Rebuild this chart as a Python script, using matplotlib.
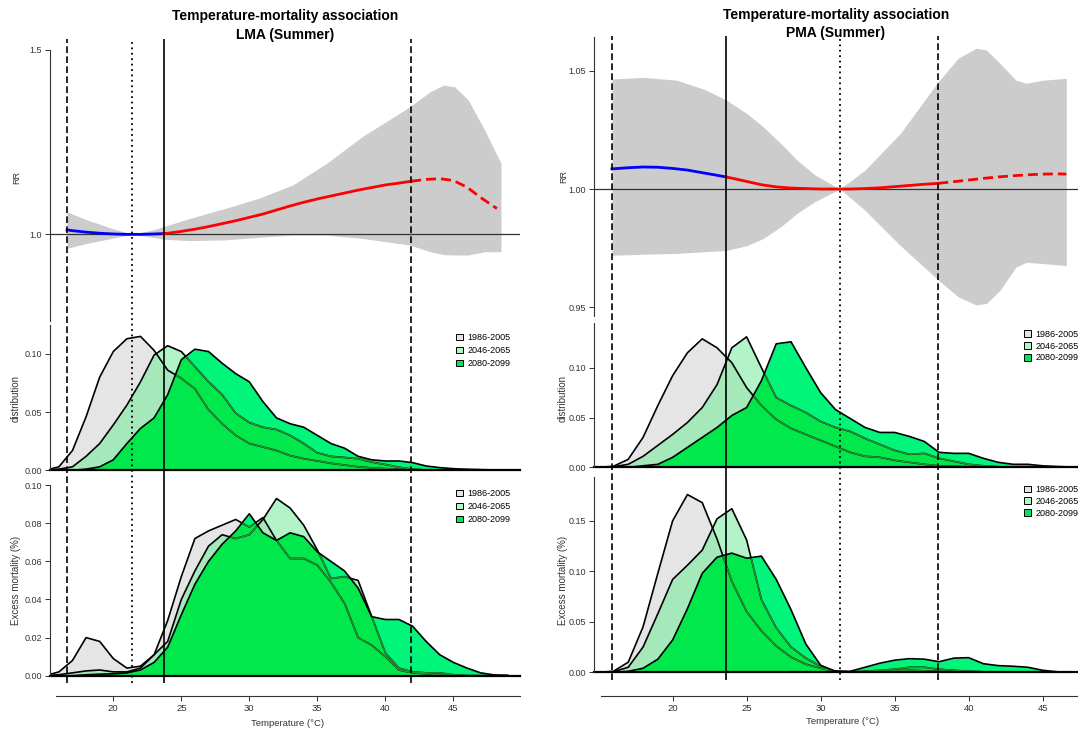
import matplotlib.pyplot as plt
import numpy as np
from matplotlib.patches import Patch

plt.rcParams['font.family'] = ['Liberation Sans', 'DejaVu Sans']
plt.rcParams['font.size'] = 7

W, H = 1078, 732

periods = ['1986-2005', '2046-2065', '2080-2099']

# ---------------- LMA (left column) ----------------
lma_rr_temp = [16.6, 17, 18, 19, 20, 21, 22, 23, 23.7, 24, 25, 26, 27, 28, 29, 30, 31, 32,
               33, 34, 35, 36, 37, 38, 39, 40, 41, 41.9, 43, 44, 45, 46, 47, 48, 48.2]
lma_rr = [1.012, 1.010, 1.006, 1.003, 1.001, 1.000, 1.000, 1.001, 1.002, 1.003, 1.008, 1.014,
          1.021, 1.029, 1.037, 1.046, 1.055, 1.066, 1.077, 1.087, 1.096, 1.104, 1.112, 1.120,
          1.127, 1.134, 1.139, 1.144, 1.149, 1.151, 1.146, 1.128, 1.100, 1.075, 1.070]
lma_ci_temp = [16.6, 18, 20, 21.4, 22.9, 23.7, 25.6, 28.2, 30.7, 33.2, 35.7, 38.3, 41.8,
               43.3, 44.3, 45.1, 46.1, 47.3, 48.5]
lma_ci_hi = [1.061, 1.040, 1.015, 1.000, 1.012, 1.021, 1.043, 1.070, 1.098, 1.134, 1.193,
             1.265, 1.346, 1.387, 1.405, 1.400, 1.364, 1.283, 1.193]
lma_ci_lo = [0.962, 0.975, 0.990, 1.000, 0.992, 0.987, 0.983, 0.985, 0.992, 0.998, 0.998,
             0.989, 0.971, 0.953, 0.945, 0.944, 0.944, 0.953, 0.953]

lma_temp = np.arange(15, 50)
lma_dist_1986 = [0, 0.003, 0.017, 0.046, 0.080, 0.102, 0.113, 0.115, 0.103, 0.086, 0.079, 0.070,
                 0.052, 0.040, 0.030, 0.023, 0.020, 0.017, 0.0126, 0.010, 0.008, 0.006, 0.0045,
                 0.003, 0.002, 0.0014, 0.001, 0.0005, 0.0003, 0, 0, 0, 0, 0, 0]
lma_dist_2046 = [0, 0.001, 0.003, 0.012, 0.023, 0.039, 0.056, 0.076, 0.099, 0.107, 0.102, 0.089,
                 0.076, 0.065, 0.049, 0.041, 0.037, 0.035, 0.030, 0.023, 0.015, 0.012, 0.011,
                 0.010, 0.007, 0.005, 0.0026, 0.001, 0.0003, 0, 0, 0, 0, 0, 0]
lma_dist_2080 = [0, 0, 0, 0.001, 0.003, 0.009, 0.023, 0.036, 0.045, 0.065, 0.095, 0.104, 0.102,
                 0.092, 0.083, 0.076, 0.059, 0.045, 0.040, 0.037, 0.030, 0.023, 0.019, 0.012,
                 0.009, 0.008, 0.008, 0.0066, 0.0037, 0.0023, 0.0014, 0.0009, 0.0006, 0.0003, 0.0002]
lma_exc_1986 = [0, 0.002, 0.008, 0.020, 0.018, 0.009, 0.004, 0.005, 0.011, 0.029, 0.052, 0.072,
                0.076, 0.079, 0.082, 0.078, 0.083, 0.071, 0.0615, 0.0615, 0.058, 0.049, 0.038,
                0.020, 0.016, 0.010, 0.003, 0.0015, 0.001, 0.0005, 0, 0, 0, 0, 0]
lma_exc_2046 = [0, 0.0005, 0.0015, 0.0025, 0.003, 0.002, 0.002, 0.004, 0.011, 0.018, 0.040, 0.055,
                0.068, 0.074, 0.072, 0.074, 0.082, 0.093, 0.088, 0.079, 0.066, 0.051, 0.052,
                0.050, 0.031, 0.012, 0.004, 0.002, 0.0015, 0.0015, 0.0005, 0, 0, 0, 0]
lma_exc_2080 = [0, 0, 0, 0.0005, 0.0008, 0.001, 0.0015, 0.003, 0.007, 0.015, 0.032, 0.048, 0.060,
                0.069, 0.076, 0.085, 0.075, 0.071, 0.075, 0.073, 0.065, 0.060, 0.055, 0.046,
                0.031, 0.0295, 0.0295, 0.026, 0.018, 0.011, 0.007, 0.004, 0.0015, 0.0004, 0.0002]
lma_cuts = {'low': 16.57, 'mmt': 21.37, 'split': 23.7, 'high': 41.9}

# ---------------- PMA (right column) ----------------
pma_rr_temp = [15.9, 17, 18, 19, 20, 21, 22, 23, 23.6, 24, 25, 26, 27, 28, 29, 30, 31.3, 32, 33,
               34, 35, 36, 37, 37.95, 39, 40, 41, 42, 43, 44, 45, 46, 46.6]
pma_rr = [1.0085, 1.0090, 1.0093, 1.0092, 1.0087, 1.0080, 1.0069, 1.0058, 1.0051, 1.0046,
          1.0032, 1.0018, 1.0009, 1.0004, 1.0002, 1.0000, 1.0000, 1.0000, 1.0002, 1.0005,
          1.0010, 1.0015, 1.0020, 1.0024, 1.0031, 1.0038, 1.0045, 1.0051, 1.0056, 1.0060,
          1.0063, 1.0064, 1.0063]
pma_ci_temp = [15.9, 18, 20.3, 22.2, 23.6, 25, 26.1, 27.3, 28.4, 29.6, 31.3, 33, 35.4, 37.95,
               39.3, 40.5, 41.2, 42.1, 43.2, 43.9, 45, 46.6]
pma_ci_hi = [1.0465, 1.0472, 1.046, 1.042, 1.0377, 1.032, 1.0264, 1.0193, 1.0123, 1.006, 1.0,
             1.008, 1.0236, 1.0454, 1.0553, 1.0595, 1.0588, 1.0532, 1.046, 1.0447, 1.046, 1.0468]
pma_ci_lo = [0.972, 0.9724, 0.9728, 0.9735, 0.974, 0.976, 0.979, 0.984, 0.9897, 0.9946, 1.0,
             0.991, 0.976, 0.9615, 0.9544, 0.951, 0.9516, 0.957, 0.967, 0.969, 0.9685, 0.9676]

pma_temp = np.arange(15, 48)
pma_dist_1986 = [0, 0.001, 0.008, 0.030, 0.062, 0.092, 0.115, 0.129, 0.120, 0.105, 0.080, 0.062,
                 0.048, 0.039, 0.033, 0.027, 0.021, 0.015, 0.011, 0.010, 0.007, 0.005, 0.003,
                 0.0015, 0.001, 0.0005, 0.0003, 0, 0, 0, 0, 0, 0]
pma_dist_2046 = [0, 0.0005, 0.003, 0.011, 0.022, 0.033, 0.045, 0.060, 0.083, 0.120, 0.131, 0.100,
                 0.070, 0.062, 0.055, 0.046, 0.040, 0.036, 0.029, 0.023, 0.017, 0.013, 0.014,
                 0.009, 0.006, 0.003, 0.0015, 0.0005, 0, 0, 0, 0, 0]
pma_dist_2080 = [0, 0, 0, 0.0015, 0.003, 0.010, 0.020, 0.030, 0.040, 0.052, 0.060, 0.087, 0.124,
                 0.126, 0.100, 0.075, 0.058, 0.049, 0.040, 0.035, 0.035, 0.031, 0.026, 0.015,
                 0.014, 0.014, 0.009, 0.005, 0.003, 0.003, 0.0015, 0.0008, 0.0003]
pma_exc_1986 = [0, 0.001, 0.010, 0.045, 0.098, 0.150, 0.176, 0.168, 0.132, 0.090, 0.060, 0.041,
                0.026, 0.015, 0.008, 0.004, 0.001, 0.0003, 0.0005, 0.001, 0.0015, 0.002, 0.0015,
                0.001, 0.0005, 0.0003, 0, 0, 0, 0, 0, 0, 0]
pma_exc_2046 = [0, 0.0005, 0.005, 0.025, 0.058, 0.092, 0.106, 0.121, 0.152, 0.162, 0.131, 0.072,
                0.044, 0.025, 0.014, 0.006, 0.001, 0.0005, 0.001, 0.002, 0.003, 0.005, 0.005,
                0.003, 0.002, 0.001, 0.0005, 0, 0, 0, 0, 0, 0]
pma_exc_2080 = [0, 0, 0.001, 0.004, 0.013, 0.032, 0.063, 0.098, 0.114, 0.118, 0.113, 0.115, 0.092,
                0.062, 0.028, 0.007, 0.001, 0.001, 0.005, 0.009, 0.012, 0.0135, 0.013, 0.0105,
                0.014, 0.0145, 0.0085, 0.0066, 0.006, 0.005, 0.002, 0.0005, 0]
pma_cuts = {'low': 15.9, 'mmt': 31.3, 'split': 23.6, 'high': 37.95}

# colours
c_1986 = '#E5E5E5'
c_2046 = '#67EB91'      # drawn with alpha 0.5
c_2080 = '#00F57A'
c_2080_over = '#00E84C'
c_inner = '#2A9632'
txt = '#333333'


def box(x0, x1, top, bottom):
    return [x0 / W, 1 - bottom / H, (x1 - x0) / W, (bottom - top) / H]


def style_left(ax, ticks, fmt, bounds=None):
    for s in ['top', 'right', 'bottom']:
        ax.spines[s].set_visible(False)
    ax.spines['left'].set_color(txt)
    ax.spines['left'].set_linewidth(0.8)
    if bounds is not None:
        ax.spines['left'].set_bounds(*bounds)
    ax.set_yticks(ticks)
    ax.set_yticklabels([fmt % t for t in ticks])
    ax.tick_params(axis='y', direction='out', length=3.5, width=0.7, color=txt,
                   labelsize=6.5, labelcolor=txt, pad=2)
    ax.set_xticks([])


def density(ax, temp, d1, d2, d3):
    ax.fill_between(temp, 0, d1, color=c_1986, lw=0)
    ax.plot(temp, d1, color='black', lw=1.2)
    ax.fill_between(temp, 0, d2, color=c_2046, alpha=0.5, lw=0)
    ax.plot(temp, d2, color='black', lw=1.2)
    top = ax.fill_between(temp, 0, d3, color=c_2080, lw=0)
    clip = top.get_paths()[0]
    # parts of the earlier periods lying under the 2080-2099 area
    for d in (d1, d2):
        f = ax.fill_between(temp, 0, d, color=c_2080_over, lw=0)
        f.set_clip_path(clip, ax.transData)
        ln, = ax.plot(temp, d, color=c_inner, lw=1.0)
        ln.set_clip_path(clip, ax.transData)
    ax.plot(temp, d3, color='black', lw=1.2)
    ax.axhline(0, color='black', lw=1.6, clip_on=False)


def legend(ax, x, y, spacing):
    handles = [Patch(facecolor=c_1986, edgecolor='black', lw=0.7),
               Patch(facecolor='#B3F5C8', edgecolor='black', lw=0.7),
               Patch(facecolor='#00E85A', edgecolor='black', lw=0.7)]
    ax.legend(handles, periods, loc='upper left', bbox_to_anchor=(x, y), frameon=False,
              fontsize=6.5, handlelength=0.75, handleheight=0.75, handletextpad=0.5,
              labelspacing=spacing, borderpad=0, borderaxespad=0)


def column(cfg):
    x0, x1, xlim = cfg['x0'], cfg['x1'], cfg['xlim']
    cuts = cfg['cuts']

    # RR panel
    ax = fig.add_axes(box(x0, x1, *cfg['rr_box']))
    ax.set_xlim(xlim)
    ax.set_ylim(cfg['rr_ylim'])
    ax.fill_between(cfg['ci_temp'], cfg['ci_lo'], cfg['ci_hi'], color='#CCCCCC', lw=0)
    ax.axhline(1, color=txt, lw=0.9)
    t = np.array(cfg['rr_temp'])
    rr = np.array(cfg['rr'])
    cold = t <= cuts['split']
    warm = (t >= cuts['split']) & (t <= cuts['high'])
    ext = t >= cuts['high']
    ax.plot(t[cold], rr[cold], color='blue', lw=2)
    ax.plot(t[warm], rr[warm], color='red', lw=2)
    ax.plot(t[ext], rr[ext], color='red', lw=2, dashes=(3.6, 1.8))
    style_left(ax, cfg['rr_ticks'], cfg['rr_fmt'], cfg.get('rr_bounds'))
    ax.set_ylabel('RR', fontsize=6.5, color=txt)
    ax.yaxis.set_label_coords(cfg['ylab_x'], cfg['ylab_y'][0])

    # distribution panel
    ax = fig.add_axes(box(x0, x1, *cfg['dist_box']))
    ax.set_xlim(xlim)
    ax.set_ylim(0, cfg['dist_top'])
    density(ax, cfg['temp'], *cfg['dist'])
    style_left(ax, [0, 0.05, 0.10], '%.2f')
    ax.set_ylabel('distribution', fontsize=7, color=txt)
    ax.yaxis.set_label_coords(cfg['ylab_x'], cfg['ylab_y'][1])
    legend(ax, cfg['leg_x'], cfg['leg_y'][0], cfg['leg_sp'])

    # excess mortality panel
    ax = fig.add_axes(box(x0, x1, *cfg['exc_box']))
    ax.set_xlim(xlim)
    ax.set_ylim(0, cfg['exc_top'])
    density(ax, cfg['temp'], *cfg['exc'])
    style_left(ax, cfg['exc_ticks'], '%.2f')
    ax.set_ylabel('Excess mortality (%)', fontsize=7, color=txt)
    ax.yaxis.set_label_coords(cfg['ylab_x'], cfg['ylab_y'][2])
    legend(ax, cfg['leg_x'], cfg['leg_y'][1], cfg['leg_sp'])
    ax.spines['bottom'].set_visible(True)
    ax.spines['bottom'].set_color(txt)
    ax.spines['bottom'].set_linewidth(0.8)
    ax.spines['bottom'].set_position(('outward', cfg['x_out']))
    ax.spines['bottom'].set_bounds(cfg['x_bounds'])
    ax.set_xticks([20, 25, 30, 35, 40, 45])
    ax.tick_params(axis='x', direction='out', length=3.5, width=0.7, color=txt,
                   labelsize=6.8, labelcolor=txt, pad=2.5)
    ax.set_xlabel('Temperature (°C)', fontsize=6.8, color=txt)
    ax.xaxis.set_label_coords(cfg['xlab'][0], cfg['xlab'][1])

    # reference temperatures across all panels
    ov = fig.add_axes(box(x0, x1, *cfg['vline_box']))
    ov.set_xlim(xlim)
    ov.set_ylim(0, 1)
    ov.axis('off')
    ov.axvline(cuts['low'], color='black', lw=1.2, dashes=(4, 2))
    ov.axvline(cuts['high'], color='black', lw=1.2, dashes=(4, 2))
    ov.axvline(cuts['mmt'], color='black', lw=1.3, dashes=(1, 2))
    ov.axvline(cuts['split'], color='black', lw=1.2)

    cx = (x0 + x1) / 2
    fig.text(cx / W, 1 - cfg['title_y'][0] / H, 'Temperature-mortality association',
             ha='center', va='center', fontsize=10, fontweight='bold')
    fig.text(cx / W, 1 - cfg['title_y'][1] / H, cfg['name'],
             ha='center', va='center', fontsize=10, fontweight='bold')


fig = plt.figure(figsize=(W / 100, H / 100), dpi=100)

column(dict(name='LMA (Summer)', x0=49.9, x1=520, xlim=(15.34, 49.9), cuts=lma_cuts,
            rr_box=(39.3, 321), rr_ylim=(0.765, 1.529), rr_ticks=[1.0, 1.5], rr_fmt='%.1f',
            rr_bounds=(0.765, 1.5),
            rr_temp=lma_rr_temp, rr=lma_rr, ci_temp=lma_ci_temp, ci_lo=lma_ci_lo, ci_hi=lma_ci_hi,
            temp=lma_temp, dist=(lma_dist_1986, lma_dist_2046, lma_dist_2080),
            exc=(lma_exc_1986, lma_exc_2046, lma_exc_2080),
            dist_box=(325, 470.3), dist_top=0.1248,
            exc_box=(485, 675.7), exc_top=0.1001, exc_ticks=[0, 0.02, 0.04, 0.06, 0.08, 0.10],
            ylab_x=-0.0615, ylab_y=(0.508, 0.497, 0.502),
            leg_x=0.864, leg_y=(0.945, 0.979), leg_sp=0.45,
            x_out=14.6, x_bounds=(15.79, 49.9), xlab=(0.505, -0.226),
            vline_box=(39.3, 683), title_y=(15.7, 35)))

column(dict(name='PMA (Summer)', x0=593.9, x1=1078, xlim=(14.68, 47.39), cuts=pma_cuts,
            rr_box=(36.7, 316), rr_ylim=(0.9463, 1.0644), rr_ticks=[0.95, 1.00, 1.05],
            rr_fmt='%.2f',
            rr_temp=pma_rr_temp, rr=pma_rr, ci_temp=pma_ci_temp, ci_lo=pma_ci_lo, ci_hi=pma_ci_hi,
            temp=pma_temp, dist=(pma_dist_1986, pma_dist_2046, pma_dist_2080),
            exc=(pma_exc_1986, pma_exc_2046, pma_exc_2080),
            dist_box=(322.7, 467.3), dist_top=0.1452,
            exc_box=(477.3, 672.3), exc_top=0.1931, exc_ticks=[0, 0.05, 0.10, 0.15],
            ylab_x=-0.0535, ylab_y=(0.498, 0.479, 0.473),
            leg_x=0.889, leg_y=(0.95, 0.96), leg_sp=0.3,
            x_out=17.0, x_bounds=(15.14, 47.39), xlab=(0.513, -0.230),
            vline_box=(36, 680), title_y=(15, 33)))

fig.savefig('out.png', dpi=100)
